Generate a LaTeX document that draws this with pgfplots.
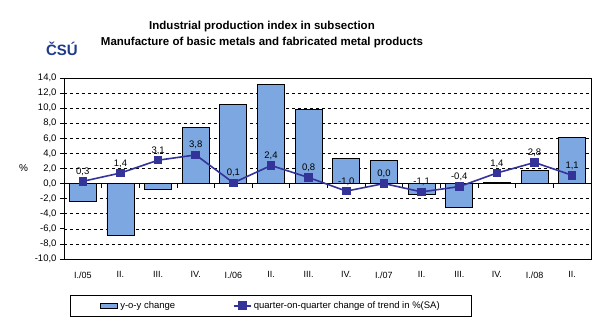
\documentclass[border=0pt]{standalone}
\usepackage{fontspec}
\setmainfont{Liberation Sans}
\usepackage{pgfplots}
\pgfplotsset{compat=1.18}
\definecolor{barblue}{HTML}{7DA7E0}
\definecolor{linenavy}{HTML}{333399}
\definecolor{logoblue}{HTML}{1F3A8A}

\begin{document}
\begin{tikzpicture}
\path[use as bounding box] (-64pt,-69pt) rectangle (542pt,259pt);
\begin{axis}[
    at={(0pt,0pt)}, anchor=south west,
    scale only axis,
    width=527pt, height=181pt,
    xmin=-0.5, xmax=13.5,
    ymin=-10, ymax=14,
    ytick={-10,-8,...,14},
    xtick={0,...,13},
    xticklabels={I./05,II.,III.,IV.,I./06,II.,III.,IV.,I./07,II.,III.,IV.,I./08,II.},
    x tick label style={font=\fontsize{9}{10}\selectfont, yshift=-5pt},
    y tick label style={font=\fontsize{9.5}{11}\selectfont},
    /pgf/number format/assume math mode=true,
    yticklabel style={/pgf/number format/.cd, fixed, fixed zerofill, precision=1, use comma},
    major x tick style={draw=none},
    ytick pos=left,
    tick align=outside,
    major tick length=4pt,
    every tick/.style={black, line width=0.8pt},
    axis line style={line width=0.8pt},
    ymajorgrids,
    grid style={dashed, black, line width=0.6pt},
    ylabel={\%},
    ylabel style={rotate=-90, font=\fontsize{10}{12}\selectfont},
    legend columns=2,
    legend style={at={(0.0114,-0.2)}, anchor=north west,
        draw=black, line width=0.8pt, font=\fontsize{9.5}{11}\selectfont,
        inner xsep=30pt, inner ysep=4pt,
        /tikz/column 2/.style={column sep=56pt}},
    legend cell align=left,
]
\addplot[ybar, bar width=27pt, fill=barblue, draw=black, line width=0.8pt, area legend]
coordinates {
    (0,-2.4) (1,-6.9) (2,-0.8) (3,7.4) (4,10.5) (5,13.2) (6,9.8)
    (7,3.3) (8,3.1) (9,-1.5) (10,-3.1) (11,0.15) (12,1.7) (13,6.1)
};
\addlegendentry{y-o-y change}
\draw[black, line width=0.8pt] (axis cs:-0.5,0) -- (axis cs:13.5,0);
\pgfplotsinvokeforeach{0.5,1.5,...,12.5}{
    \draw[black, line width=0.8pt] (axis cs:#1,0) -- ++(0pt,-4pt);
}
\addplot[linenavy, line width=1.6pt, mark=square*, mark size=3.5pt,
    mark options={fill=linenavy, draw=linenavy},
    point meta=explicit symbolic,
    nodes near coords, nodes near coords align=vertical,
    every node near coord/.append style={black, inner sep=5pt, font=\fontsize{9.5}{11}\selectfont}]
coordinates {
    (0,0.3) [0,3] (1,1.4) [1,4] (2,3.1) [3,1] (3,3.8) [3,8] (4,0.1) [0,1]
    (5,2.4) [2,4] (6,0.8) [0,8] (7,-1.0) [-1,0] (8,0.0) [0,0] (9,-1.1) [-1,1]
    (10,-0.4) [-0,4] (11,1.4) [1,4] (12,2.8) [2,8] (13,1.1) [1,1]
};
\addlegendentry{quarter-on-quarter change of trend in \%(SA)}
\end{axis}
\node[font=\fontsize{11.5}{16}\selectfont\bfseries, align=center] at (198pt,224pt)
    {Industrial production index in subsection\\Manufacture of basic metals and fabricated metal products};
\node[font=\fontsize{15}{17}\selectfont\bfseries, text=logoblue] at (-2pt,210pt) {ČSÚ};
\end{tikzpicture}
\end{document}
